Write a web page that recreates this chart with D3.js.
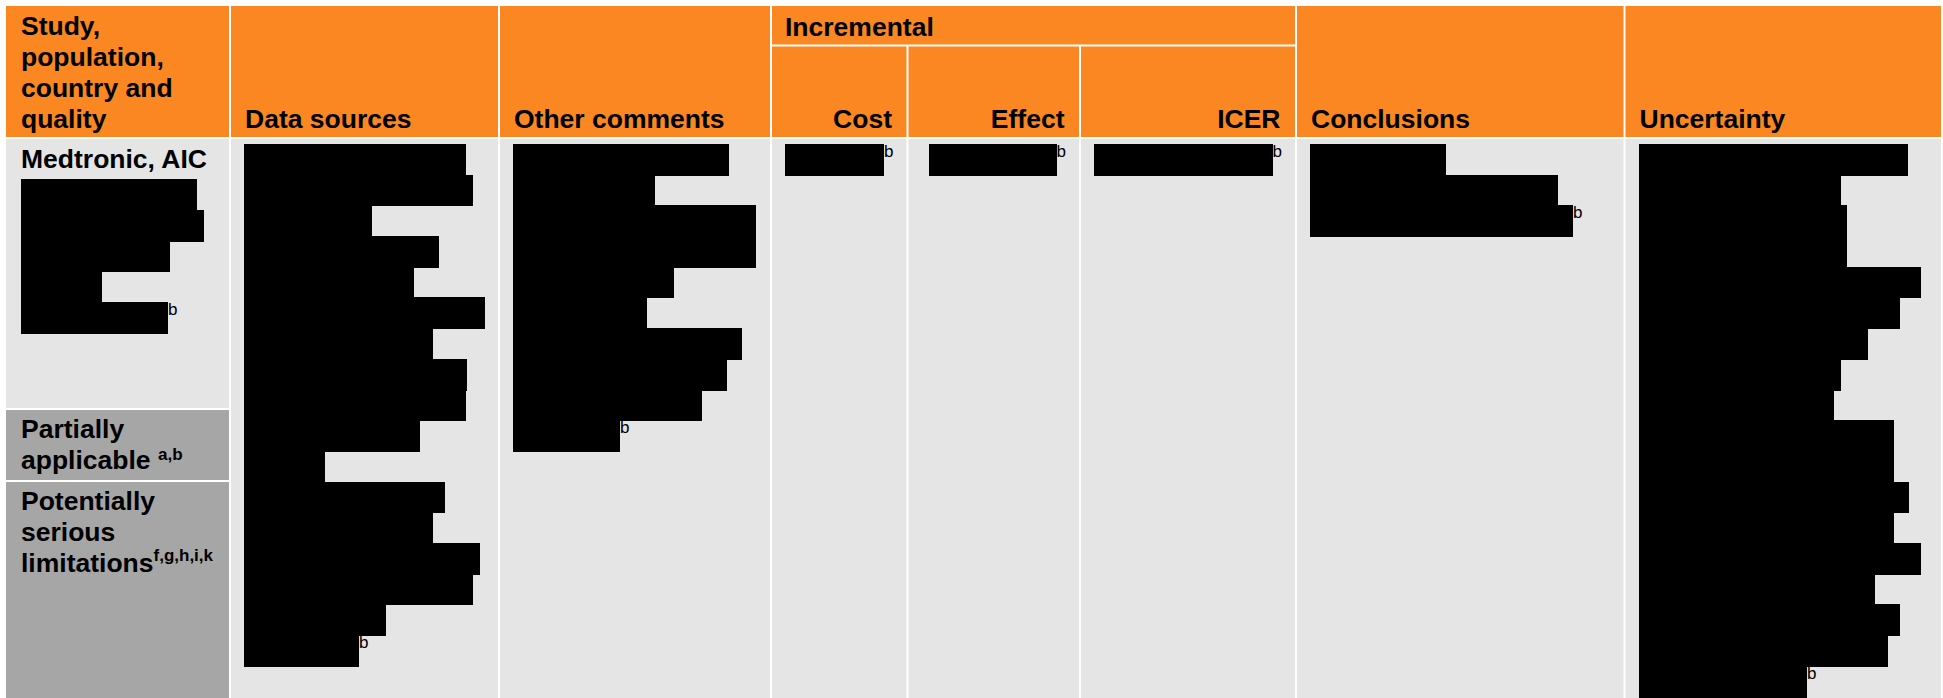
<!DOCTYPE html>
<html>
<head>
<meta charset="utf-8">
<script src="https://cdn.jsdelivr.net/npm/d3@7"></script>
<style>
  body { margin: 0; background: #ffffff; }
  svg { display: block; }
  text { font-family: "Liberation Sans", Arial, sans-serif; fill: #000; }
</style>
</head>
<body>
<div id="tabla"></div>
<script>
//Encabezados de columna
const columnas = ["Study, population, country and quality", "Data sources", "Other comments", "Cost", "Effect", "ICER", "Conclusions", "Uncertainty"];
const grupoIncremental = "Incremental";
const lineasEstudio = ["Study,", "population,", "country and", "quality"];
const estudio = "Medtronic, AIC";
const calidad1 = ["Partially", "applicable "];
const notaCalidad1 = "a,b";
const calidad2 = ["Potentially", "serious", "limitations"];
const notaCalidad2 = "f,g,h,i,k";

//Longitud de cada línea tachada (px de texto) por columna
const lineasStudy = [176, 183, 149, 81, 147];
const lineasData = [222, 229, 128, 195, 170, 241, 189, 223, 222, 176, 81, 201, 189, 236, 229, 142, 115];
const lineasOther = [216, 142, 243, 243, 161, 134, 229, 214, 189, 107];
const lineasCost = [99];
const lineasEffect = [128];
const lineasIcer = [179];
const lineasConcl = [136, 248, 263];
const lineasUnc = [269, 202, 208, 208, 282, 261, 229, 202, 195, 255, 255, 270, 255, 282, 236, 261, 249, 168];
const notaLinea = "b";

const width = 1943, height = 698;
const naranja = "#fa8722", grisClaro = "#e5e5e5", grisOscuro = "#a6a6a6";

//Bordes de las columnas
const bordes = [[6, 229], [231, 498], [500, 770], [772, 906.5], [908.5, 1079], [1081, 1295], [1297, 1623.5], [1625.5, 1941]];

const svg = d3.select("#tabla").append("svg")
  .attr("width", width).attr("height", height);

//Escala de renglones (línea de texto) y escala de longitud
const y = d3.scaleLinear().domain([0, 18]).range([144, 696.5]);
const yStudy = d3.scaleLinear().domain([0, 5]).range([179, 333]);
const x = d3.scaleLinear().domain([0, 100]).range([0, 100]);

//Encabezado naranja
const hdr = svg.append("g");
[0, 1, 2, 6, 7].forEach(function(i) {
  hdr.append("rect").attr("x", bordes[i][0]).attr("y", 6)
    .attr("width", bordes[i][1] - bordes[i][0]).attr("height", 131).attr("fill", naranja);
});
hdr.append("rect").attr("x", 772).attr("y", 6).attr("width", 1295 - 772).attr("height", 38.5).attr("fill", naranja);
[3, 4, 5].forEach(function(i) {
  hdr.append("rect").attr("x", bordes[i][0]).attr("y", 46.5)
    .attr("width", bordes[i][1] - bordes[i][0]).attr("height", 90.5).attr("fill", naranja);
});

const fuente = 26.5;
const base = 127.5;
lineasEstudio.forEach(function(t, i) {
  hdr.append("text").attr("x", 21).attr("y", base - (lineasEstudio.length - 1 - i) * 30.8)
    .attr("font-size", fuente).attr("font-weight", "bold").text(t);
});
[1, 2, 6, 7].forEach(function(i) {
  hdr.append("text").attr("x", bordes[i][0] + 14).attr("y", base)
    .attr("font-size", fuente).attr("font-weight", "bold").text(columnas[i]);
});
[3, 4, 5].forEach(function(i) {
  hdr.append("text").attr("x", bordes[i][1] - 14.5).attr("y", base)
    .attr("text-anchor", "end").attr("font-size", fuente).attr("font-weight", "bold").text(columnas[i]);
});
hdr.append("text").attr("x", 785).attr("y", 36)
  .attr("font-size", fuente).attr("font-weight", "bold").text(grupoIncremental);

//Cuerpo gris
const body = svg.append("g");
body.append("rect").attr("x", 6).attr("y", 139).attr("width", 223).attr("height", 269).attr("fill", grisClaro);
body.append("rect").attr("x", 6).attr("y", 410).attr("width", 223).attr("height", 70).attr("fill", grisOscuro);
body.append("rect").attr("x", 6).attr("y", 482).attr("width", 223).attr("height", 216).attr("fill", grisOscuro);
bordes.slice(1).forEach(function(b) {
  body.append("rect").attr("x", b[0]).attr("y", 139).attr("width", b[1] - b[0]).attr("height", 559).attr("fill", grisClaro);
});

//Textos de la primera columna
body.append("text").attr("x", 21).attr("y", 168).attr("font-size", fuente).attr("font-weight", "bold").text(estudio);
calidad1.forEach(function(t, i) {
  const tx = body.append("text").attr("x", 21).attr("y", 438 + i * 31)
    .attr("font-size", fuente).attr("font-weight", "bold").text(t);
  if (i === calidad1.length - 1)
    tx.append("tspan").attr("font-size", 17).attr("dy", -9).text(notaCalidad1);
});
calidad2.forEach(function(t, i) {
  const tx = body.append("text").attr("x", 21).attr("y", 510 + i * 31)
    .attr("font-size", fuente).attr("font-weight", "bold").text(t);
  if (i === calidad2.length - 1)
    tx.append("tspan").attr("font-size", 17).attr("dy", -11).text(notaCalidad2);
});

//Dibuja las líneas tachadas de una columna
function getLineas(datos, x0, escalaY, alinear) {
  const g = svg.append("g").attr("shape-rendering", "crispEdges");
  g.selectAll("rect").data(datos).enter().append("rect")
    .attr("x", function(d) { return Math.round(alinear ? x0 - x(d) : x0); })
    .attr("y", function(d, i) { return Math.round(escalaY(i)); })
    .attr("width", function(d) { return Math.round(x(d)); })
    .attr("height", function(d, i) { return Math.round(escalaY(i + 1)) - Math.round(escalaY(i)) + 1; })
    .attr("fill", "#000");
  //Nota "b" al final de la última línea
  const u = datos.length - 1;
  g.append("text")
    .attr("x", alinear ? x0 : x0 + x(datos[u]))
    .attr("y", escalaY(u) + 13)
    .attr("font-size", 17).text(notaLinea);
}

getLineas(lineasStudy, 21, yStudy, false);
getLineas(lineasData, 244, y, false);
getLineas(lineasOther, 513, y, false);
getLineas(lineasCost, bordes[3][1] - 22.5, y, true);
getLineas(lineasEffect, bordes[4][1] - 22.5, y, true);
getLineas(lineasIcer, bordes[5][1] - 22.5, y, true);
getLineas(lineasConcl, 1310, y, false);
getLineas(lineasUnc, 1639, y, false);
</script>
</body>
</html>
